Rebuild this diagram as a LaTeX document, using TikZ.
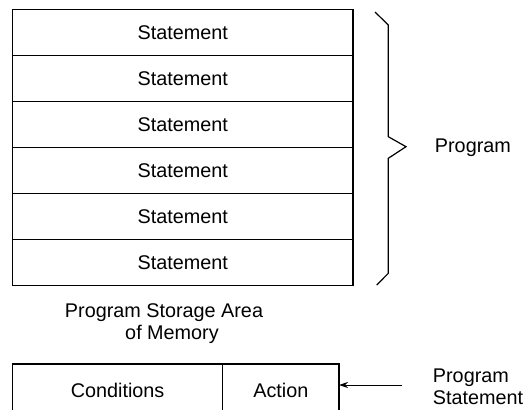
\documentclass[tikz,border=0pt]{standalone}
\usepackage{fontspec}
\setmainfont{Liberation Sans}
\usetikzlibrary{arrows.meta, positioning}

\tikzset{
  cell/.style={draw, line width=1.2pt, minimum height=46pt, inner sep=0pt, outer sep=0pt},
  stmt/.style={cell, minimum width=340.5pt},
}

\begin{document}
\begin{tikzpicture}[x=1pt, y=-1pt, line width=1.2pt, every node/.style={font=\fontsize{19.8}{22}\selectfont}]
			\useasboundingbox (0,0) rectangle (529,409);

			% Draw the stack of statements
			\node[stmt, anchor=north west] (s1) at (12.5,9.5) {Statement};
			\node[stmt, below=0pt of s1] (s2) {Statement};
			\node[stmt, below=0pt of s2] (s3) {Statement};
			\node[stmt, below=0pt of s3] (s4) {Statement};
			\node[stmt, below=0pt of s4] (s5) {Statement};
			\node[stmt, below=0pt of s5] (s6) {Statement};

			% Draw the brace
			\draw (375,12) -- (388.3,25) -- (388.3,136.7) -- (406,146.7) -- (388.3,158.3)
			-- (388.3,273.3) -- (376.7,285);
			\node[anchor=west] (prog) at (431,148) {Program};

			\node[align=center] (area) at (164,324) {Program Storage Area\\ \hspace*{16pt}of Memory};

			% Draw the statement box
			\node[cell, minimum height=52pt, minimum width=210.2pt, anchor=north west] (cond) at (12.5,364) {Conditions};
			\node[cell, minimum height=52pt, minimum width=116.3pt, right=0pt of cond] (act) {Action};

			\node[align=left, anchor=west] (ps) at (429,387) {Program\\ Statement};
			\coordinate (tail) at (402,385);
			\draw[-{Stealth[length=9pt, width=6pt]}, line width=1pt] (tail) -- (tail -| act.east);

		\end{tikzpicture}
\end{document}
